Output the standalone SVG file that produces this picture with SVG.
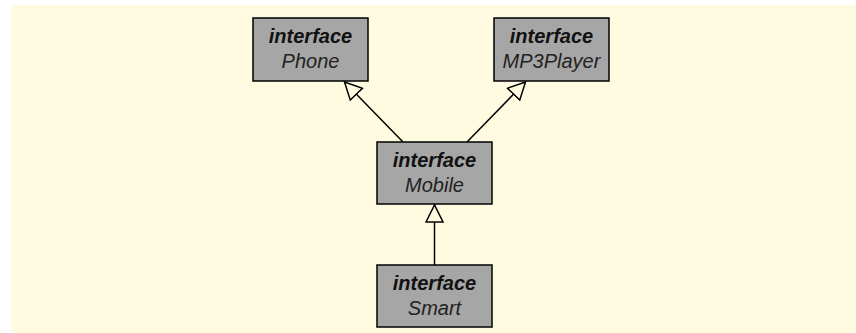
<svg xmlns="http://www.w3.org/2000/svg" width="856" height="333" viewBox="0 0 856 333">
<defs>
<style>
.box{fill:#a6a6a6;stroke:#000;stroke-width:1.5}
.t1{font-family:"Liberation Sans",Arial,sans-serif;font-size:20px;font-style:italic;font-weight:bold;fill:#111;text-anchor:middle}
.t2{font-family:"Liberation Sans",Arial,sans-serif;font-size:20px;font-style:italic;fill:#222;text-anchor:middle}
.edge{stroke:#000;stroke-width:1.5;fill:none;marker-end:url(#tri)}
</style>
<marker id="tri" viewBox="-1 -1 20 19" markerWidth="20" markerHeight="19" refX="17" refY="8.5" orient="auto" markerUnits="userSpaceOnUse">
<path d="M0,0 L17,8.5 L0,17 Z" fill="#fffbe1" stroke="#000" stroke-width="1.5" stroke-linejoin="miter"/>
</marker>
</defs>
<rect x="11" y="5" width="856" height="328" rx="6" fill="#fffbe1"/>
<g id="connectors">
<line class="edge" x1="403" y1="142" x2="344.5" y2="82"/>
<line class="edge" x1="467" y1="142" x2="525.5" y2="82"/>
<line class="edge" x1="434.5" y1="265" x2="434.5" y2="205"/>
</g>
<g id="phone">
<rect class="box" x="253" y="18" width="115" height="63"/>
<text class="t1" x="310.5" y="43">interface</text>
<text class="t2" x="310.5" y="68">Phone</text>
</g>
<g id="mp3player">
<rect class="box" x="494" y="18" width="115" height="63"/>
<text class="t1" x="551.5" y="43">interface</text>
<text class="t2" x="551.5" y="68">MP3Player</text>
</g>
<g id="mobile">
<rect class="box" x="377" y="142" width="115" height="62"/>
<text class="t1" x="434.5" y="167">interface</text>
<text class="t2" x="434.5" y="192">Mobile</text>
</g>
<g id="smart">
<rect class="box" x="377" y="265" width="115" height="62"/>
<text class="t1" x="434.5" y="290">interface</text>
<text class="t2" x="434.5" y="315">Smart</text>
</g>
</svg>
